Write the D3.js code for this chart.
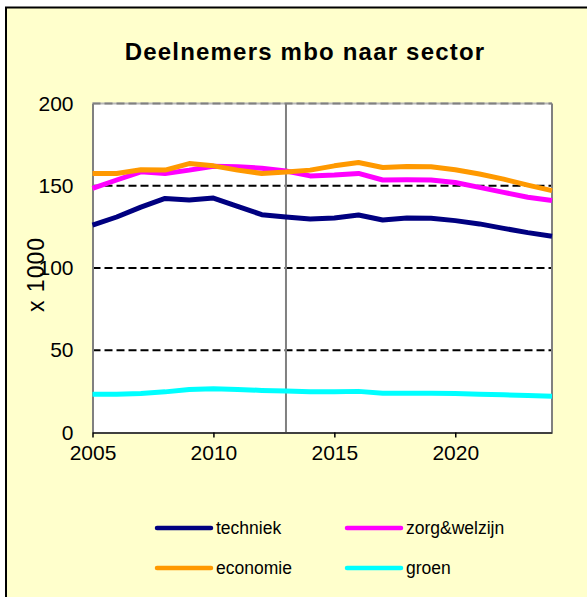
<!DOCTYPE html>
<html>
<head>
<meta charset="utf-8">
<script src="https://cdn.jsdelivr.net/npm/d3@7"></script>
<style>
  html, body { margin: 0; padding: 0; background: #ffffff; }
  svg { display: block; font-family: Arial, "Liberation Sans", sans-serif; }
</style>
</head>
<body>
<svg id="chart" width="587" height="597"></svg>
<script>
// Participants in MBO education per sector (x 1000)
const years = d3.range(2005, 2025);
const techniek = [126, 131, 137, 142.3, 141.3, 142.5, 137.5, 132.4, 131, 129.8, 130.4, 132.2, 129.2, 130.4, 130.2, 128.8, 126.8, 124.1, 121.5, 119.3];
const zorgWelzijn = [148.4, 153.5, 158.5, 157.5, 159.5, 161.9, 161.5, 160.7, 159, 156, 156.5, 157.5, 153.5, 153.6, 153.5, 152, 149, 146, 143, 141];
const economie = [157.5, 157.5, 159.7, 159.5, 163.5, 162.1, 159.5, 157.5, 158.3, 159.5, 162.1, 164.1, 161.1, 161.7, 161.5, 159.7, 157.1, 154, 150.4, 147];
const groen = [23.3, 23.3, 23.7, 24.7, 26.2, 26.6, 26.2, 25.6, 25.2, 24.7, 24.7, 25.0, 23.9, 23.9, 23.9, 23.7, 23.3, 22.9, 22.5, 22.1];

const seriesNames = ["techniek", "zorg&welzijn", "economie", "groen"];
const seriesColors = ["#000080", "#ff00ff", "#ff9900", "#00ffff"];
const seriesValues = [techniek, zorgWelzijn, economie, groen];

const yTicks = [0, 50, 100, 150, 200];
const xTicks = [2005, 2010, 2015, 2020];
const gridValues = [50, 100, 150];
const markerYear = 2013;

const title = "Deelnemers mbo naar sector";
const yTitle = "x 1000";

const svg = d3.select("#chart");

// frame
svg.append("rect")
  .attr("x", 6).attr("y", 7.5)
  .attr("width", 640).attr("height", 640)
  .attr("fill", "#ffffcc")
  .attr("stroke", "#000").attr("stroke-width", 2);

const plot = { left: 92.5, right: 552, top: 103.5, bottom: 432.5 };

const x = d3.scaleLinear().domain([2005, 2024]).range([plot.left, plot.right]);
const y = d3.scaleLinear().domain([0, 200]).range([plot.bottom, plot.top]);

// plot background
svg.append("rect")
  .attr("x", plot.left).attr("y", plot.top)
  .attr("width", plot.right - plot.left).attr("height", plot.bottom - plot.top)
  .attr("fill", "#ffffff");

// dashed gridlines
svg.append("g").selectAll("line").data(gridValues).join("line")
  .attr("x1", plot.left).attr("x2", plot.right)
  .attr("y1", d => y(d)).attr("y2", d => y(d))
  .attr("stroke", "#000").attr("stroke-width", 2)
  .attr("stroke-dasharray", "8,4");

// top edge
svg.append("line")
  .attr("x1", plot.left).attr("x2", plot.right)
  .attr("y1", y(200)).attr("y2", y(200))
  .attr("stroke", "#b8b8b8").attr("stroke-width", 2);
svg.append("line")
  .attr("x1", plot.left).attr("x2", plot.right)
  .attr("y1", y(200)).attr("y2", y(200))
  .attr("stroke", "#808080").attr("stroke-width", 2)
  .attr("stroke-dasharray", "8,4");

// right edge
svg.append("line")
  .attr("x1", plot.right).attr("x2", plot.right)
  .attr("y1", plot.top).attr("y2", plot.bottom)
  .attr("stroke", "#808080").attr("stroke-width", 2);

// vertical marker line
svg.append("line")
  .attr("x1", x(markerYear)).attr("x2", x(markerYear))
  .attr("y1", plot.top).attr("y2", plot.bottom)
  .attr("stroke", "#808080").attr("stroke-width", 2);

// y axis
const yAxis = svg.append("g")
  .attr("transform", `translate(${plot.left},0)`)
  .call(d3.axisLeft(y).tickValues(yTicks).tickSize(0).tickPadding(19));
yAxis.select(".domain").attr("stroke", "#808080").attr("stroke-width", 2);
yAxis.selectAll("text")
  .attr("font-size", 21).attr("fill", "#000")
  .attr("font-family", "Arial, 'Liberation Sans', sans-serif");

// x axis
const xAxis = svg.append("g")
  .attr("transform", `translate(0,${plot.bottom})`)
  .call(d3.axisBottom(x).tickValues(xTicks).tickFormat(d3.format("d")).tickSize(5).tickSizeOuter(0).tickPadding(8));
xAxis.select(".domain").attr("stroke", "#404040").attr("stroke-width", 2);
xAxis.selectAll(".tick line").attr("stroke", "#000").attr("stroke-width", 1.5);
xAxis.selectAll("text")
  .attr("font-size", 21).attr("fill", "#000")
  .attr("font-family", "Arial, 'Liberation Sans', sans-serif");

// series lines
const line = d3.line()
  .x((d, i) => x(years[i]))
  .y(d => y(d));

svg.append("g").selectAll("path").data(seriesValues).join("path")
  .attr("d", d => line(d))
  .attr("fill", "none")
  .attr("stroke", (d, i) => seriesColors[i])
  .attr("stroke-width", 5)
  .attr("stroke-linejoin", "round");

// title
svg.append("text")
  .attr("x", 305).attr("y", 59.5)
  .attr("text-anchor", "middle")
  .attr("font-size", 24).attr("font-weight", "bold")
  .attr("letter-spacing", 1.2)
  .text(title);

// y axis title
svg.append("text")
  .attr("transform", "translate(44,274.5) rotate(-90)")
  .attr("text-anchor", "middle")
  .attr("font-size", 23)
  .attr("letter-spacing", 1)
  .text(yTitle);

// legend
const legendPos = [
  { lx: 157, ly: 528 }, { lx: 347, ly: 528 },
  { lx: 157, ly: 568 }, { lx: 347, ly: 568 }
];
const legend = svg.append("g").selectAll("g").data(seriesNames).join("g")
  .attr("transform", (d, i) => `translate(${legendPos[i].lx},${legendPos[i].ly})`);
legend.append("line")
  .attr("x1", 0).attr("x2", 54).attr("y1", 0).attr("y2", 0)
  .attr("stroke", (d, i) => seriesColors[i])
  .attr("stroke-width", 4.5)
  .attr("stroke-linecap", "round");
legend.append("text")
  .attr("x", 59).attr("y", 6)
  .attr("font-size", 17.5)
  .text(d => d);
</script>
</body>
</html>
